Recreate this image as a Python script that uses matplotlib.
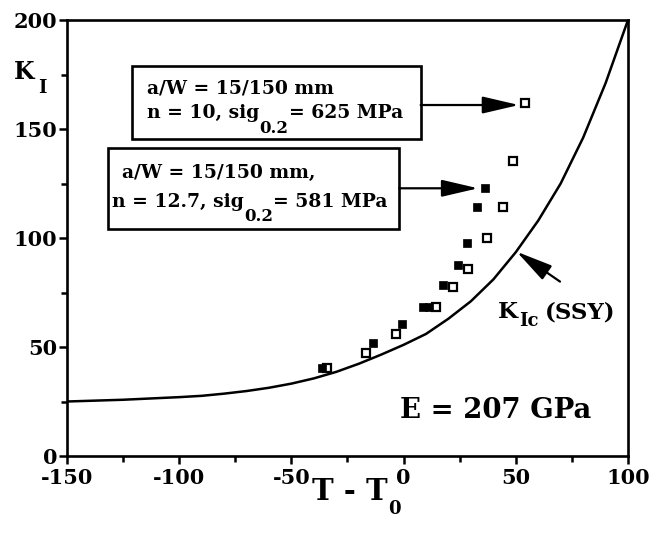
import matplotlib.pyplot as plt
from matplotlib.patches import Rectangle

# K_Ic (SSY) curve
t_ssy = [-150, -125, -100, -90, -80, -70, -60, -50, -40, -30, -20, -10, 0,
         10, 20, 30, 40, 50, 60, 70, 80, 90, 100]
k_ssy = [25, 25.8, 27, 27.6, 28.6, 29.8, 31.3, 33.2, 35.6, 38.6, 42.3, 46.5, 51,
         56, 63, 71, 81, 93.5, 108, 125, 146, 171, 200]

# n = 12.7, sig0.2 = 581 MPa (filled squares)
t_fill = [-36.5, -13.5, -0.5, 8.5, 11.5, 17.7, 24.4, 28.4, 32.8, 36.3]
k_fill = [40.2, 51.7, 60.6, 68.5, 68.5, 78.4, 87.6, 97.6, 114.4, 122.8]

# n = 10, sig0.2 = 625 MPa (open squares)
t_open = [-34.3, -16.8, -3.2, 14.4, 21.9, 28.8, 37.0, 44.4, 48.6, 54.1]
k_open = [40.2, 47.4, 55.8, 68.5, 77.7, 85.6, 99.9, 114.4, 135.5, 161.8]

x_ticks = [-150, -100, -50, 0, 50, 100]
x_minor = [-125, -75, -25, 25, 75]
y_ticks = [0, 50, 100, 150, 200]
y_minor = [25, 75, 125, 175]

plt.rcParams['font.family'] = 'DejaVu Serif'
plt.rcParams['font.weight'] = 'bold'
plt.rcParams['axes.unicode_minus'] = False

fig = plt.figure(figsize=(6.57, 5.33), dpi=100)
ax = fig.add_axes([67/657, 1 - 456/533, (628 - 67)/657, (456 - 20)/533])


def text_sub(x, y, base, sub, rest, fs, fs_sub, drop, gap=0.0, coords='data'):
	# text with a lowered subscript, and optionally more text after it
	tr = ax.transData if coords == 'data' else fig.transFigure
	t = ax.text(x, y, base, fontsize=fs, transform=tr, zorder=6)
	s = ax.annotate(sub, xy=(1, 0), xycoords=t, xytext=(0.5, -drop),
	                textcoords='offset points', fontsize=fs_sub, va='baseline', zorder=6)
	if rest:
		ax.annotate(rest, xy=(1, 0), xycoords=(s, t), xytext=(gap, 0),
		            textcoords='offset points', fontsize=fs, va='bottom', zorder=6)


# curve and data --------------------------------------------------------------
ax.plot(t_ssy, k_ssy, color='k', lw=1.8, solid_joinstyle='round', zorder=2)
ax.plot(t_open, k_open, ls='none', marker='s', ms=5.8, mfc='white', mec='k', mew=1.6, zorder=3)
ax.plot(t_fill, k_fill, ls='none', marker='s', ms=6.2, mfc='k', mec='k', mew=0.5, zorder=4)

ax.set_xlim(-150, 100)
ax.set_ylim(0, 200)
ax.set_xticks(x_ticks)
ax.set_xticks(x_minor, minor=True)
ax.set_yticks(y_ticks)
ax.set_yticks(y_minor, minor=True)
ax.tick_params(which='major', direction='out', length=6, width=1.8, labelsize=15, pad=1)
ax.tick_params(axis='x', which='major', pad=3)
ax.tick_params(which='minor', direction='out', length=4, width=1.8)
for s in ax.spines.values():
	s.set_linewidth(1.9)

# axis labels -----------------------------------------------------------------
fig.text(14/657, 1 - 79/533, 'K', fontsize=17, ha='left', va='baseline')
fig.text(38/657, 1 - 93/533, 'I', fontsize=13, ha='left', va='baseline')
text_sub(312/657, 1 - 500/533, 'T - T', '0', None, 21, 13, 6, coords='fig')

# annotation boxes ------------------------------------------------------------
ax.add_patch(Rectangle((-121.2, 145.3), 128.8, 33.6, fill=False, lw=1.9, zorder=5))
ax.text(-114.5, 166.4, 'a/W = 15/150 mm', fontsize=13.5, zorder=6)
text_sub(-114.5, 154.9, 'n = 10, sig', '0.2', '= 625 MPa', 13.5, 12, 7.5)

ax.add_patch(Rectangle((-131.6, 104.0), 129.6, 37.1, fill=False, lw=1.9, zorder=5))
ax.text(-125.6, 127.4, 'a/W = 15/150 mm,', fontsize=13.5, zorder=6)
text_sub(-130.1, 114.4, 'n = 12.7, sig', '0.2', '= 581 MPa', 13.5, 12, 7.5)

arrow = dict(arrowstyle='-|>,head_length=1.5,head_width=0.35', color='k', lw=1.6,
             mutation_scale=15, shrinkA=0, shrinkB=0)
ax.annotate('', xy=(51.4, 161.0), xytext=(7.6, 161.0), arrowprops=arrow)
ax.annotate('', xy=(33.2, 122.8), xytext=(-2.0, 122.8), arrowprops=arrow)
ax.annotate('', xy=(50.4, 93.7), xytext=(69.7, 80.0), arrowprops=arrow)

text_sub(42.1, 63.3, 'K', 'Ic', '(SSY)', 16.5, 13, 2, gap=5)
ax.text(-1.6, 17.4, 'E = 207 GPa', fontsize=19.8)

fig.savefig('out.png', dpi=100)
